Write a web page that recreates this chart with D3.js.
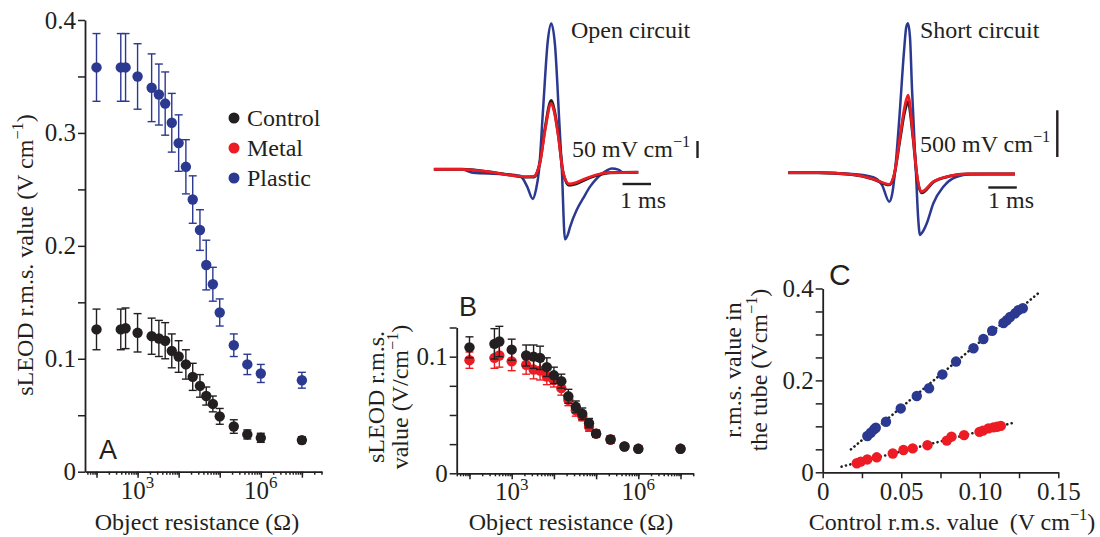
<!DOCTYPE html>
<html>
<head>
<meta charset="utf-8">
<script src="https://cdn.jsdelivr.net/npm/d3@7"></script>
<style>
body { margin: 0; background: #fff; }
text { font-family: "Liberation Serif", "Times New Roman", serif; fill: #231f20; }
.letter { font-family: "Liberation Sans", Arial, sans-serif; }
</style>
</head>
<body>
<svg id="fig" width="1100" height="537"></svg>
<script>
// ---- data ----
const resistance = [100, 390, 510, 1000, 2200, 3300, 4700, 6800, 10000, 15000, 22000, 33000, 47000, 68000, 100000, 220000, 470000, 1000000, 10000000];

// panel A
const controlA = [0.126, 0.126, 0.127, 0.123, 0.120, 0.118, 0.116, 0.107, 0.102, 0.095, 0.084, 0.076, 0.067, 0.060, 0.049, 0.040, 0.033, 0.030, 0.028];
const controlAErr = [0.018, 0.018, 0.018, 0.017, 0.016, 0.016, 0.016, 0.015, 0.014, 0.013, 0.012, 0.010, 0.008, 0.007, 0.007, 0.006, 0.004, 0.004, 0.003];
const plasticA = [0.358, 0.358, 0.358, 0.350, 0.340, 0.334, 0.326, 0.309, 0.291, 0.270, 0.241, 0.214, 0.183, 0.166, 0.141, 0.112, 0.095, 0.087, 0.081];
const plasticAErr = [0.030, 0.030, 0.030, 0.029, 0.030, 0.027, 0.028, 0.026, 0.025, 0.024, 0.021, 0.018, 0.022, 0.015, 0.012, 0.010, 0.009, 0.008, 0.007];

// panel B
const controlB = [0.108, 0.111, 0.113, 0.106, 0.101, 0.100, 0.099, 0.091, 0.084, 0.079, 0.066, 0.057, 0.051, 0.043, 0.034, 0.029, 0.023, 0.021, 0.021];
const controlBErr = [0.009, 0.013, 0.013, 0.009, 0.009, 0.010, 0.010, 0.008, 0.007, 0.006, 0.006, 0.005, 0.005, 0.004, 0.003, 0.003, 0.002, 0.002, 0.002];
const metalB = [0.097, 0.099, 0.101, 0.096, 0.093, 0.089, 0.088, 0.083, 0.080, 0.073, 0.063, 0.054, 0.049, 0.040, 0.034, 0.029, 0.023, 0.021, 0.021];
const metalBErr = [0.007, 0.009, 0.010, 0.008, 0.008, 0.008, 0.008, 0.007, 0.006, 0.006, 0.005, 0.005, 0.004, 0.004, 0.003, 0.003, 0.002, 0.002, 0.002];

// panel C (control value vs value in the tube)
const plasticCx = [0.0284, 0.0306, 0.0327, 0.0338, 0.0403, 0.0497, 0.0599, 0.0677, 0.0762, 0.0849, 0.0960, 0.1023, 0.1079, 0.1151, 0.1172, 0.1193, 0.1225, 0.1246, 0.1274];
const plasticCy = [0.079, 0.086, 0.0935, 0.097, 0.110, 0.139, 0.166, 0.183, 0.213, 0.241, 0.270, 0.290, 0.308, 0.325, 0.331, 0.338, 0.346, 0.353, 0.357];
const metalCx = [0.0217, 0.0242, 0.0284, 0.0344, 0.0446, 0.0514, 0.0573, 0.0667, 0.0790, 0.0820, 0.0900, 0.0998, 0.1020, 0.1055, 0.1087, 0.1110, 0.1134];
const metalCy = [0.0196, 0.0232, 0.0280, 0.0326, 0.0410, 0.0486, 0.0520, 0.0590, 0.0690, 0.0775, 0.0810, 0.0880, 0.0906, 0.0957, 0.0978, 0.0990, 0.1010];
const fitPlasticX = [0.018, 0.137];
const fitPlasticY = [0.050, 0.389];
const fitMetalX = [0.012, 0.1225];
const fitMetalY = [0.0123, 0.1087];

// EOD traces: [time (ms, from peak), field (mV/cm)]
const openPlastic = [[-4.12, 0], [-3.14, 0], [-2.75, -10], [-1.69, -14], [-1.10, -19], [-0.85, -50], [-0.65, -87], [-0.54, -61], [-0.43, -2], [-0.29, 175], [-0.12, 380], [0, 429], [0.13, 365], [0.28, 140], [0.37, 0], [0.48, -206], [0.58, -192], [0.66, -169], [0.89, -120], [1.12, -85], [1.36, -51], [1.65, -22], [1.94, -4], [2.12, 2], [2.35, -1], [2.53, -9], [3.05, -9]];
const openControl = [[-4.12, 0], [-3.14, 0], [-2.15, -8], [-1.45, -17], [-0.92, -23], [-0.62, -23], [-0.5, -10], [-0.4, 20], [-0.22, 120], [0, 202], [0.1, 176], [0.25, 100], [0.42, -12], [0.63, -47], [0.87, -43], [1.12, -33], [1.59, -18], [2.06, -10], [3.05, -9]];
const openMetal = [[-4.12, 0], [-3.14, 0], [-2.15, -8], [-1.45, -17], [-0.92, -22], [-0.62, -21], [-0.5, -9], [-0.4, 18], [-0.22, 115], [0, 194], [0.1, 170], [0.25, 96], [0.42, -12], [0.63, -43], [0.87, -39], [1.12, -30], [1.59, -16], [2.06, -10], [3.05, -9]];
const shortPlastic = [[-4.2, 0], [-3.15, 0], [-1.98, -14], [-1.22, -49], [-0.91, -132], [-0.66, -310], [-0.55, -220], [-0.46, 0], [-0.3, 600], [-0.14, 1300], [-0.06, 1560], [0, 1599], [0.07, 1450], [0.14, 900], [0.28, 0], [0.36, -500], [0.42, -667], [0.5, -640], [0.66, -541], [0.89, -327], [1.24, -150], [1.71, -43], [2.18, -17], [2.88, -14], [3.75, -14]];
const shortControl = [[-4.2, 0], [-3.15, 0], [-1.98, -19], [-1.23, -67], [-0.66, -130], [-0.5, -45], [-0.28, 360], [-0.12, 650], [0, 760], [0.18, 370], [0.32, -50], [0.48, -215], [0.89, -100], [1.47, -37], [2.1, -14], [3.75, -14]];
const shortMetal = [[-4.2, 0], [-3.15, 0], [-1.98, -19], [-1.23, -67], [-0.66, -124], [-0.5, -40], [-0.28, 385], [-0.12, 700], [0, 831], [0.18, 385], [0.32, -43], [0.48, -203], [0.89, -96], [1.47, -35], [2.1, -14], [3.75, -14]];

// axis ticks and labels
const yTicksA = [0, 0.05, 0.1, 0.15, 0.2, 0.25, 0.3, 0.35, 0.4];
const yLabelsA = [0, 0.1, 0.2, 0.3, 0.4];
const yTicksB = [0, 0.025, 0.05, 0.075, 0.1, 0.125];
const yLabelsB = [0, 0.1];
const decades = [100, 1000, 10000, 100000, 1000000, 10000000];
const decadeLabels = [1000, 1000000];
const xTicksC = [0, 0.025, 0.05, 0.075, 0.1, 0.125, 0.15];
const xLabelsC = ['0', '0.05', '0.10', '0.15'];
const yTicksC = [0, 0.05, 0.1, 0.15, 0.2, 0.25, 0.3, 0.35, 0.4];
const yLabelsC = [0, 0.2, 0.4];
const legendLabels = ['Control', 'Metal', 'Plastic'];

const BLACK = '#231f20', RED = '#ed1c24', BLUE = '#2b3990';
const FS = 24;     // label text
const TFS = 25;    // tick labels

const svg = d3.select('#fig');
svg.append('rect').attr('width', 1100).attr('height', 537).attr('fill', '#fff');

// text with superscript parts: [[str, isSup], ...]
function richText(parent, parts, size) {
    const t = parent.append('text').attr('font-size', size);
    let shift = 0;
    parts.forEach(([s, sup]) => {
        const want = sup ? -0.42 * size : 0;
        t.append('tspan')
            .attr('dy', want - shift)
            .attr('font-size', sup ? size * 0.68 : size)
            .text(s);
        shift = want;
    });
    return t;
}

function styleAxis(g) {
    g.attr('font-size', TFS).attr('font-family', null);
    g.select('.domain').attr('stroke', BLACK).attr('stroke-width', 1.8);
    g.selectAll('.tick line').attr('stroke', BLACK).attr('stroke-width', 1.5);
    g.selectAll('.tick text').attr('fill', BLACK);
}

function fmtNum(d) {
    return d === 0 ? '0' : d3.format('.1f')(d);
}

function logAxis(g, x, yPos) {
    g.append('g')
        .attr('transform', `translate(0,${yPos})`)
        .call(d3.axisBottom(x).tickValues(x.ticks()).tickSize(3).tickSizeOuter(0).tickFormat(''))
        .call(styleAxis);
    g.append('g')
        .attr('transform', `translate(0,${yPos})`)
        .call(d3.axisBottom(x).tickValues(decades).tickSize(6).tickSizeOuter(0).tickFormat(''))
        .call(styleAxis)
        .call(a => a.select('.domain').remove());
    decadeLabels.forEach(v => {
        richText(g, [['10', false], [String(Math.round(Math.log10(v))), true]], TFS)
            .attr('x', x(v)).attr('y', yPos + 27).attr('text-anchor', 'middle');
    });
}

function drawErrorPoints(g, xs, ys, errs, x, y, color) {
    const cap = 4;
    const eb = g.append('g').attr('stroke', color).attr('stroke-width', 1.4);
    xs.forEach((xv, i) => {
        const cx = x(xv), y1 = y(ys[i] - errs[i]), y2 = y(ys[i] + errs[i]);
        eb.append('line').attr('x1', cx).attr('x2', cx).attr('y1', y1).attr('y2', y2);
        eb.append('line').attr('x1', cx - cap).attr('x2', cx + cap).attr('y1', y1).attr('y2', y1);
        eb.append('line').attr('x1', cx - cap).attr('x2', cx + cap).attr('y1', y2).attr('y2', y2);
    });
    g.append('g').selectAll('circle')
        .data(xs)
        .enter().append('circle')
        .attr('cx', d => x(d))
        .attr('cy', (d, i) => y(ys[i]))
        .attr('r', 5.2)
        .attr('fill', color);
}

function rotLabel(parent, parts, x, y) {
    richText(parent, parts, FS)
        .attr('text-anchor', 'middle')
        .attr('transform', `translate(${x},${y}) rotate(-90)`);
}

// ================= Panel A =================
const xA = d3.scaleLog().domain([Math.pow(10, 1.72), Math.pow(10, 7.49)]).range([85, 322]);
const yA = d3.scaleLinear().domain([0, 0.4]).range([471.7, 20]);
const gA = svg.append('g');

gA.append('g')
    .attr('transform', 'translate(85,0)')
    .call(d3.axisLeft(yA).tickValues(yTicksA).tickSize(7).tickSizeOuter(0).tickPadding(2)
        .tickFormat(d => yLabelsA.some(v => Math.abs(v - d) < 1e-9) ? fmtNum(d) : ''))
    .call(styleAxis);
logAxis(gA, xA, 471.7);

drawErrorPoints(gA, resistance, plasticA, plasticAErr, xA, yA, BLUE);
drawErrorPoints(gA, resistance, controlA, controlAErr, xA, yA, BLACK);

// legend
const legColors = [BLACK, RED, BLUE];
legendLabels.forEach((lab, i) => {
    const ly = 118 + i * 30;
    gA.append('circle').attr('cx', 234).attr('cy', ly).attr('r', 5.5).attr('fill', legColors[i]);
    gA.append('text').attr('x', 247).attr('y', ly + 8).attr('font-size', FS).text(lab);
});

gA.append('text').attr('class', 'letter').attr('x', 99).attr('y', 459).attr('font-size', 27).text('A');
rotLabel(gA, [['sLEOD r.m.s. value (V cm', false], ['\u22121', true], [')', false]], 33, 255);
gA.append('text').attr('x', 197).attr('y', 530).attr('text-anchor', 'middle').attr('font-size', FS).text('Object resistance (\u03A9)');

// ================= Panel B =================
const xB = d3.scaleLog().domain([Math.pow(10, 1.697), Math.pow(10, 7.303)]).range([456.7, 693.3]);
const yB = d3.scaleLinear().domain([0, 0.125]).range([473.3, 327.5]);
const gB = svg.append('g');

gB.append('g')
    .attr('transform', 'translate(456.7,0)')
    .call(d3.axisLeft(yB).tickValues(yTicksB).tickSize(7).tickSizeOuter(0).tickPadding(2)
        .tickFormat(d => yLabelsB.some(v => Math.abs(v - d) < 1e-9) ? fmtNum(d) : ''))
    .call(styleAxis);
logAxis(gB, xB, 473.3);

drawErrorPoints(gB, resistance, metalB, metalBErr, xB, yB, RED);
drawErrorPoints(gB, resistance, controlB, controlBErr, xB, yB, BLACK);

gB.append('text').attr('class', 'letter').attr('x', 459).attr('y', 316).attr('font-size', 27).text('B');
rotLabel(gB, [['sLEOD r.m.s.', false]], 384, 397);
rotLabel(gB, [['value (V/cm', false], ['\u22121', true], [')', false]], 408, 397);
gB.append('text').attr('x', 571).attr('y', 530).attr('text-anchor', 'middle').attr('font-size', FS).text('Object resistance (\u03A9)');

// ================= Panel C =================
const xC = d3.scaleLinear().domain([0, 0.15]).range([822.7, 1058.3]);
const yC = d3.scaleLinear().domain([0, 0.4]).range([472.3, 288.5]);
const gC = svg.append('g');

gC.append('g')
    .attr('transform', 'translate(822.7,0)')
    .call(d3.axisLeft(yC).tickValues(yTicksC).tickSize(7).tickSizeOuter(0).tickPadding(2)
        .tickFormat(d => yLabelsC.some(v => Math.abs(v - d) < 1e-9) ? fmtNum(d) : ''))
    .call(styleAxis);
gC.append('g')
    .attr('transform', 'translate(0,472.3)')
    .call(d3.axisBottom(xC).tickValues(xTicksC).tickSize(6).tickSizeOuter(0).tickPadding(4)
        .tickFormat((d, i) => i % 2 === 0 ? xLabelsC[i / 2] : ''))
    .call(styleAxis);

const line = d3.line().x(d => xC(d[0])).y(d => yC(d[1]));
[[fitPlasticX, fitPlasticY], [fitMetalX, fitMetalY]].forEach(([fx, fy]) => {
    gC.append('path')
        .attr('d', line(fx.map((v, i) => [v, fy[i]])))
        .attr('fill', 'none')
        .attr('stroke', BLACK)
        .attr('stroke-width', 2.6)
        .attr('stroke-linecap', 'round')
        .attr('stroke-dasharray', '0.1,4.4');
});
[[plasticCx, plasticCy, BLUE], [metalCx, metalCy, RED]].forEach(([cx, cy, col]) => {
    gC.append('g').selectAll('circle')
        .data(cx)
        .enter().append('circle')
        .attr('cx', d => xC(d))
        .attr('cy', (d, i) => yC(cy[i]))
        .attr('r', 5.2)
        .attr('fill', col);
});

gC.append('text').attr('class', 'letter').attr('x', 829).attr('y', 285).attr('font-size', 30).text('C');
rotLabel(gC, [['r.m.s. value in', false]], 741, 370);
rotLabel(gC, [['the tube (Vcm', false], ['\u22121', true], [')', false]], 767, 370);
richText(gC, [['Control r.m.s. value', false], ['  (V cm', false], ['\u22121', true], [')', false]], FS)
    .attr('x', 952).attr('y', 530).attr('text-anchor', 'middle')
    .select('tspan:nth-child(2)').attr('dx', 5);

// ================= EOD traces =================
function drawTraces(g, series, t, v) {
    const path = d3.line().curve(d3.curveMonotoneX).x(d => t(d[0])).y(d => v(d[1]));
    series.forEach(([data, col, w]) => {
        g.append('path').attr('d', path(data)).attr('fill', 'none')
            .attr('stroke', col).attr('stroke-width', w).attr('stroke-linejoin', 'round');
    });
}

// open circuit
const tOpen = d3.scaleLinear().domain([0, 1]).range([551.3, 579.8]);
const vOpen = d3.scaleLinear().domain([0, 50]).range([169.3, 152.3]);
const gO = svg.append('g');
drawTraces(gO, [[openPlastic, BLUE, 2.5], [openControl, BLACK, 3], [openMetal, RED, 2.8]], tOpen, vOpen);
gO.append('text').attr('x', 571).attr('y', 38).attr('font-size', FS).text('Open circuit');
richText(gO, [['50 mV cm', false], ['\u22121', true]], FS).attr('x', 572).attr('y', 157);
gO.append('line').attr('x1', 697.5).attr('x2', 697.5).attr('y1', 158).attr('y2', 158 - (vOpen(0) - vOpen(50)))
    .attr('stroke', BLACK).attr('stroke-width', 2.4);
gO.append('line').attr('x1', 622.5).attr('x2', 622.5 + tOpen(1) - tOpen(0)).attr('y1', 184).attr('y2', 184)
    .attr('stroke', BLACK).attr('stroke-width', 2.4);
gO.append('text').attr('x', 620).attr('y', 208).attr('font-size', FS).text('1 ms');

// short circuit
const tShort = d3.scaleLinear().domain([0, 1]).range([908, 936.5]);
const vShort = d3.scaleLinear().domain([0, 500]).range([172.7, 126]);
const gS = svg.append('g');
drawTraces(gS, [[shortPlastic, BLUE, 2.5], [shortControl, BLACK, 3], [shortMetal, RED, 2.8]], tShort, vShort);
gS.append('text').attr('x', 920).attr('y', 38).attr('font-size', FS).text('Short circuit');
richText(gS, [['500 mV cm', false], ['\u22121', true]], FS).attr('x', 920).attr('y', 152);
gS.append('line').attr('x1', 1057.3).attr('x2', 1057.3).attr('y1', 157).attr('y2', 157 - (vShort(0) - vShort(500)))
    .attr('stroke', BLACK).attr('stroke-width', 2.4);
gS.append('line').attr('x1', 988.3).attr('x2', 988.3 + tShort(1) - tShort(0)).attr('y1', 187.5).attr('y2', 187.5)
    .attr('stroke', BLACK).attr('stroke-width', 2.4);
gS.append('text').attr('x', 988).attr('y', 208).attr('font-size', FS).text('1 ms');
</script>
</body>
</html>
